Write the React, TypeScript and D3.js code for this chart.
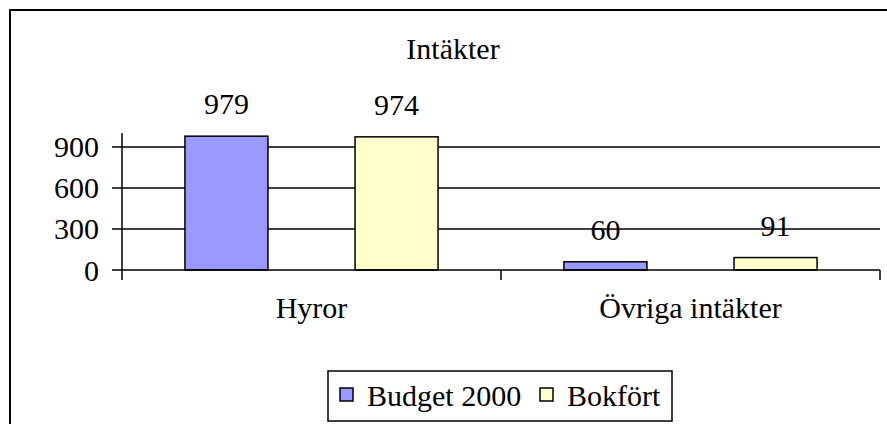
import React, { useEffect, useRef } from 'react';
import * as d3 from 'd3';

// data
const categories = ['Hyror', 'Övriga intäkter'];
const seriesNames = ['Budget 2000', 'Bokfört'];
const budget2000 = [979, 60];
const bokfort = [974, 91];
const yTicks = [0, 300, 600, 900];
const colors = ['#9999FF', '#FFFFCC'];
const title = 'Intäkter';

export default function App() {
  const ref = useRef<HTMLDivElement>(null);

  useEffect(() => {
    const w = 887;
    const h = 424;
    const font = '"Liberation Serif", "Times New Roman", serif';

    d3.select(ref.current).selectAll('*').remove();

    const svg = d3.select(ref.current)
      .append('svg')
      .attr('width', w)
      .attr('height', h)
      .style('position', 'absolute')
      .style('left', 0)
      .style('top', 0)
      .style('background-color', '#ffffff');

    // outer chart frame (right and bottom run off the page)
    svg.append('rect')
      .attr('x', 10)
      .attr('y', 10)
      .attr('width', w + 20)
      .attr('height', h + 20)
      .attr('fill', 'none')
      .attr('stroke', '#000')
      .attr('stroke-width', 2);

    const x0 = d3.scaleBand().domain(categories).range([122, 880]);
    const x1 = d3.scaleBand()
      .domain(seriesNames)
      .range([0, x0.bandwidth()])
      .paddingInner(0.512)
      .paddingOuter(0.37);
    const y = d3.scaleLinear().domain([0, 1000]).range([270, 133.3]);

    // gridlines
    svg.append('g')
      .selectAll('line')
      .data(yTicks.filter(d => d > 0))
      .enter()
      .append('line')
      .attr('x1', 122)
      .attr('x2', 880)
      .attr('y1', d => y(d))
      .attr('y2', d => y(d))
      .attr('stroke', '#000')
      .attr('stroke-width', 1.5);

    // bars
    const rows = categories.map((c, i) => ({ cat: c, vals: [budget2000[i], bokfort[i]] }));
    const groups = svg.append('g')
      .selectAll('g')
      .data(rows)
      .enter()
      .append('g')
      .attr('transform', d => `translate(${x0(d.cat)},0)`);

    groups.selectAll('rect')
      .data(d => d.vals.map((v, j) => ({ name: seriesNames[j], v, j })))
      .enter()
      .append('rect')
      .attr('x', d => x1(d.name)!)
      .attr('y', d => y(d.v))
      .attr('width', x1.bandwidth())
      .attr('height', d => y(0) - y(d.v))
      .attr('fill', d => colors[d.j])
      .attr('stroke', '#000')
      .attr('stroke-width', 1.5);

    groups.selectAll('text')
      .data(d => d.vals.map((v, j) => ({ name: seriesNames[j], v })))
      .enter()
      .append('text')
      .attr('x', d => x1(d.name)! + x1.bandwidth() / 2)
      .attr('y', d => y(d.v) - 22)
      .attr('text-anchor', 'middle')
      .style('font-family', font)
      .style('font-size', '30px')
      .text(d => d.v);

    // y axis
    const yAxis = svg.append('g');
    yAxis.append('line')
      .attr('x1', 122).attr('x2', 122)
      .attr('y1', y(1000)).attr('y2', y(0))
      .attr('stroke', '#000').attr('stroke-width', 1.5);
    yAxis.selectAll('line.tick')
      .data(yTicks)
      .enter()
      .append('line')
      .attr('class', 'tick')
      .attr('x1', 112).attr('x2', 122)
      .attr('y1', d => y(d)).attr('y2', d => y(d))
      .attr('stroke', '#000').attr('stroke-width', 1.5);
    yAxis.selectAll('text')
      .data(yTicks)
      .enter()
      .append('text')
      .attr('x', 99)
      .attr('y', d => y(d))
      .attr('dy', '0.35em')
      .attr('text-anchor', 'end')
      .style('font-family', font)
      .style('font-size', '30px')
      .text(d => d);

    // x axis
    const xAxis = svg.append('g');
    xAxis.append('line')
      .attr('x1', 122).attr('x2', 880)
      .attr('y1', y(0)).attr('y2', y(0))
      .attr('stroke', '#000').attr('stroke-width', 1.5);
    const bounds = [122, ...categories.map(c => x0(c)! + x0.bandwidth())];
    xAxis.selectAll('line.tick')
      .data(bounds)
      .enter()
      .append('line')
      .attr('class', 'tick')
      .attr('x1', d => d).attr('x2', d => d)
      .attr('y1', y(0)).attr('y2', y(0) + 10)
      .attr('stroke', '#000').attr('stroke-width', 1.5);
    xAxis.selectAll('text')
      .data(categories)
      .enter()
      .append('text')
      .attr('x', d => x0(d)! + x0.bandwidth() / 2)
      .attr('y', 318)
      .attr('text-anchor', 'middle')
      .style('font-family', font)
      .style('font-size', '30px')
      .text(d => d);

    // title
    svg.append('text')
      .attr('x', 453)
      .attr('y', 59)
      .attr('text-anchor', 'middle')
      .style('font-family', font)
      .style('font-size', '30px')
      .text(title);

    // legend
    const legend = svg.append('g');
    legend.append('rect')
      .attr('x', 328).attr('y', 371)
      .attr('width', 344).attr('height', 50)
      .attr('fill', '#fff')
      .attr('stroke', '#000').attr('stroke-width', 1.5);
    const legendX = [340, 540];
    seriesNames.forEach((s, i) => {
      legend.append('rect')
        .attr('x', legendX[i]).attr('y', 388)
        .attr('width', 13).attr('height', 13)
        .attr('fill', colors[i])
        .attr('stroke', '#000').attr('stroke-width', 1.5);
      legend.append('text')
        .attr('x', legendX[i] + 27)
        .attr('y', 406)
        .style('font-family', font)
        .style('font-size', '30px')
        .text(s);
    });
  }, []);

  return <div ref={ref}></div>;
}
